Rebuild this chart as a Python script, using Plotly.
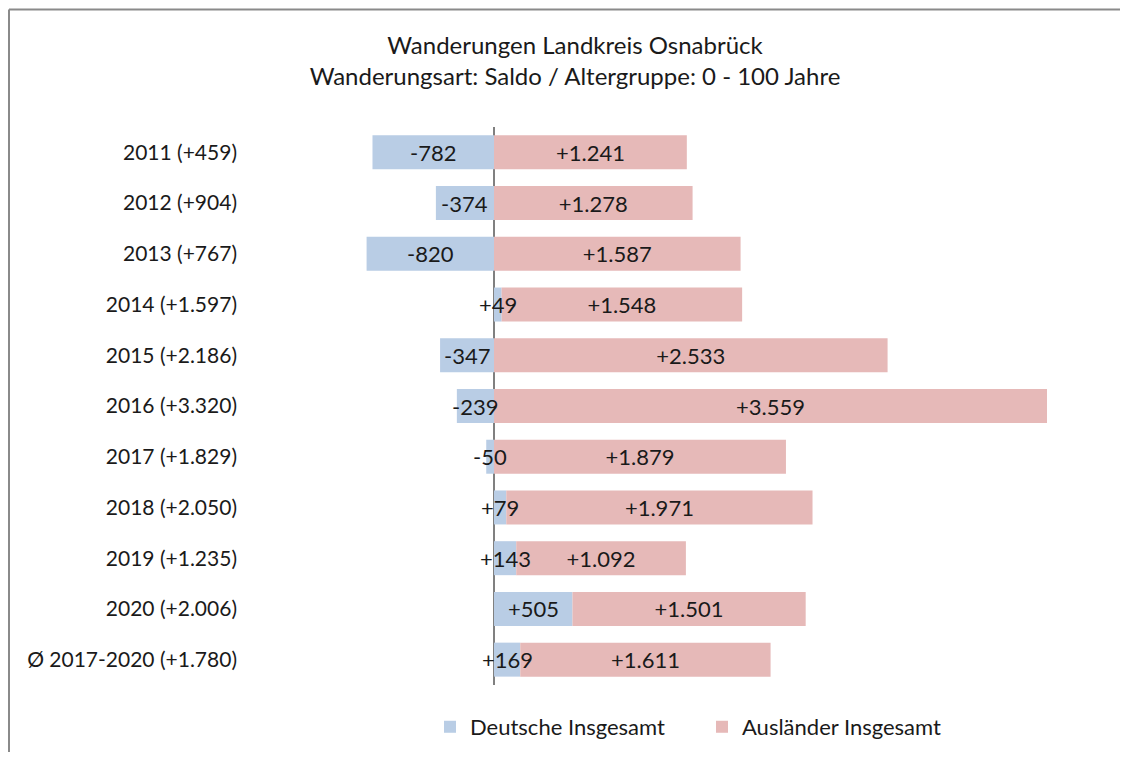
import plotly.graph_objects as go

categories = ["2011 (+459)", "2012 (+904)", "2013 (+767)", "2014 (+1.597)", "2015 (+2.186)",
              "2016 (+3.320)", "2017 (+1.829)", "2018 (+2.050)", "2019 (+1.235)", "2020 (+2.006)",
              "Ø 2017-2020 (+1.780)"]
deutsche = [-782, -374, -820, 49, -347, -239, -50, 79, 143, 505, 169]
auslaender = [1241, 1278, 1587, 1548, 2533, 3559, 1879, 1971, 1092, 1501, 1611]


def fmt(v):
    return f"{v:+,}".replace(",", ".")


FONT = "Lato, 'Open Sans', sans-serif"
OFF = 8  # default body margin of the page
W, H = 1128 - 2 * OFF, 760 - 2 * OFF
L, R, T, B = 248 - OFF, 1100 - OFF, 126.5 - OFF, 685 - OFF
ZERO = 494 - OFF
TXT = "#1a1a1a"

fig = go.Figure()
fig.add_trace(go.Bar(
    y=categories, x=deutsche, orientation="h", name="Deutsche Insgesamt",
    marker=dict(color="#b9cde5", line=dict(width=0)),
    hoverinfo="x+y",
))
fig.add_trace(go.Bar(
    y=categories, x=auslaender, orientation="h", name="Ausländer Insgesamt",
    marker=dict(color="#e6b9b8", line=dict(width=0)),
    text=[fmt(v) for v in auslaender], textposition="inside", insidetextanchor="middle",
    textangle=0, constraintext="none", textfont=dict(size=22, color=TXT, family=FONT),
    cliponaxis=False,
))

# labels of the Deutsche segments, centred on each segment, drawn above the bars
annotations = [
    dict(x=v / 2, y=c, xref="x", yref="y", text=fmt(v), showarrow=False,
         xanchor="center", yanchor="middle", font=dict(size=22, color=TXT, family=FONT))
    for c, v in zip(categories, deutsche)
]

scale = 553 / 3559.0
xmin = -(ZERO - L) / scale
xmax = (R - ZERO) / scale

fig.update_layout(
    width=W, height=H,
    barmode="relative", bargap=0.33,
    paper_bgcolor="white", plot_bgcolor="white",
    margin=dict(l=L, r=W - R, t=T, b=H - B, pad=0, autoexpand=False),
    font=dict(family=FONT, size=21, color=TXT),
    title=dict(text="Wanderungen Landkreis Osnabrück<br>Wanderungsart: Saldo / Altergruppe: 0 - 100 Jahre",
               x=(575 - OFF) / W, xanchor="center", y=1 - 46 / H, yanchor="top",
               font=dict(size=24, family=FONT, color=TXT)),
    xaxis=dict(range=[xmin, xmax], showgrid=False, showticklabels=False, ticks="",
               zeroline=True, zerolinecolor="#808080", zerolinewidth=2, fixedrange=True),
    yaxis=dict(range=[len(categories) - 0.5, -0.5], showgrid=False, ticks="", ticklabelstandoff=10,
               tickfont=dict(size=21, family=FONT, color=TXT), showline=False),
    legend=dict(orientation="h", x=(430 - OFF - L) / (R - L), xanchor="left",
                y=(B - (727 - OFF)) / (B - T), yanchor="middle",
                font=dict(size=22, family=FONT, color=TXT),
                traceorder="normal", itemwidth=30,
                entrywidth=227, entrywidthmode="pixels"),
    showlegend=True,
    annotations=annotations,
    shapes=[
        dict(type="line", xref="paper", yref="paper",
             x0=(1 - L) / (R - L), x1=(1140 - L) / (R - L),
             y0=(B - 1) / (B - T), y1=(B - 1) / (B - T),
             line=dict(color="#8a8a8a", width=2)),
        dict(type="line", xref="paper", yref="paper",
             x0=(1 - L) / (R - L), x1=(1 - L) / (R - L),
             y0=(B - 1) / (B - T), y1=(B - 780) / (B - T),
             line=dict(color="#8a8a8a", width=2)),
    ],
)

fig.write_html("out.html")
